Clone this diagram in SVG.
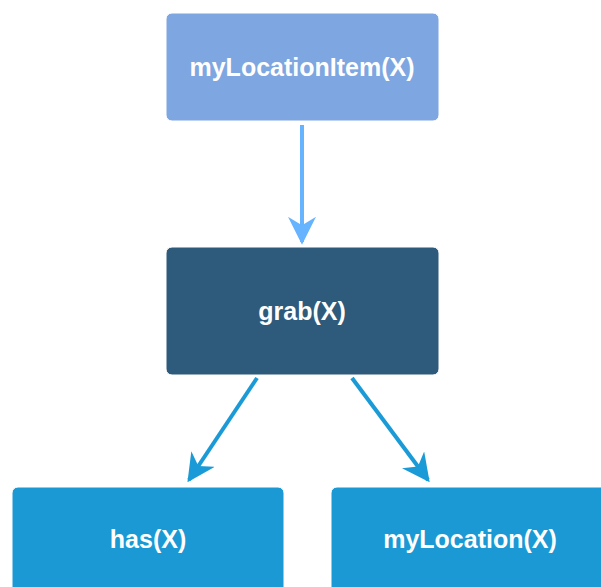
<svg xmlns="http://www.w3.org/2000/svg" width="601" height="587" viewBox="0 0 601 587">
<style>
.node rect{stroke:#ffffff;stroke-width:1;}
.lbl{font-family:"Liberation Sans",Arial,sans-serif;font-weight:bold;font-size:25px;fill:#ffffff;text-anchor:middle;}
.c1{stroke:#66b3ff;stroke-width:4;fill:none;}
.c2{stroke:#1a9ad6;stroke-width:4;fill:none;}
</style>
<defs>
<marker id="ah1" viewBox="0 0 10 10" refX="9" refY="5" markerWidth="7" markerHeight="7" markerUnits="strokeWidth" orient="auto"><path d="M0,0 L10,5 L0,10 L3,5 Z" fill="#66b3ff"/></marker>
<marker id="ah2" viewBox="0 0 10 10" refX="9" refY="5" markerWidth="7" markerHeight="7" markerUnits="strokeWidth" orient="auto"><path d="M0,0 L10,5 L0,10 L3,5 Z" fill="#1a9ad6"/></marker>
</defs>
<rect width="601" height="587" fill="#ffffff"/>
<g id="connectors">
<line class="c1" x1="302" y1="125" x2="302" y2="242" marker-end="url(#ah1)"/>
<line class="c2" x1="257" y1="378" x2="189" y2="480" marker-end="url(#ah2)"/>
<line class="c2" x1="352" y1="378" x2="428" y2="480" marker-end="url(#ah2)"/>
</g>
<g id="myLocationItem" class="node">
<rect x="166" y="13" width="273" height="108" rx="6" fill="#7ea6e0"/>
<text class="lbl" x="302" y="76">myLocationItem(X)</text>
</g>
<g id="grab" class="node">
<rect x="166" y="247" width="273" height="128" rx="6" fill="#2e5a7b"/>
<text class="lbl" x="302" y="320">grab(X)</text>
</g>
<g id="has" class="node">
<rect x="12" y="487" width="272" height="128" rx="6" fill="#1a99d4"/>
<text class="lbl" x="148" y="548">has(X)</text>
</g>
<g id="myLocation" class="node">
<rect x="331" y="487" width="280" height="128" rx="6" fill="#1a99d4"/>
<text class="lbl" x="470" y="548">myLocation(X)</text>
</g>
</svg>
